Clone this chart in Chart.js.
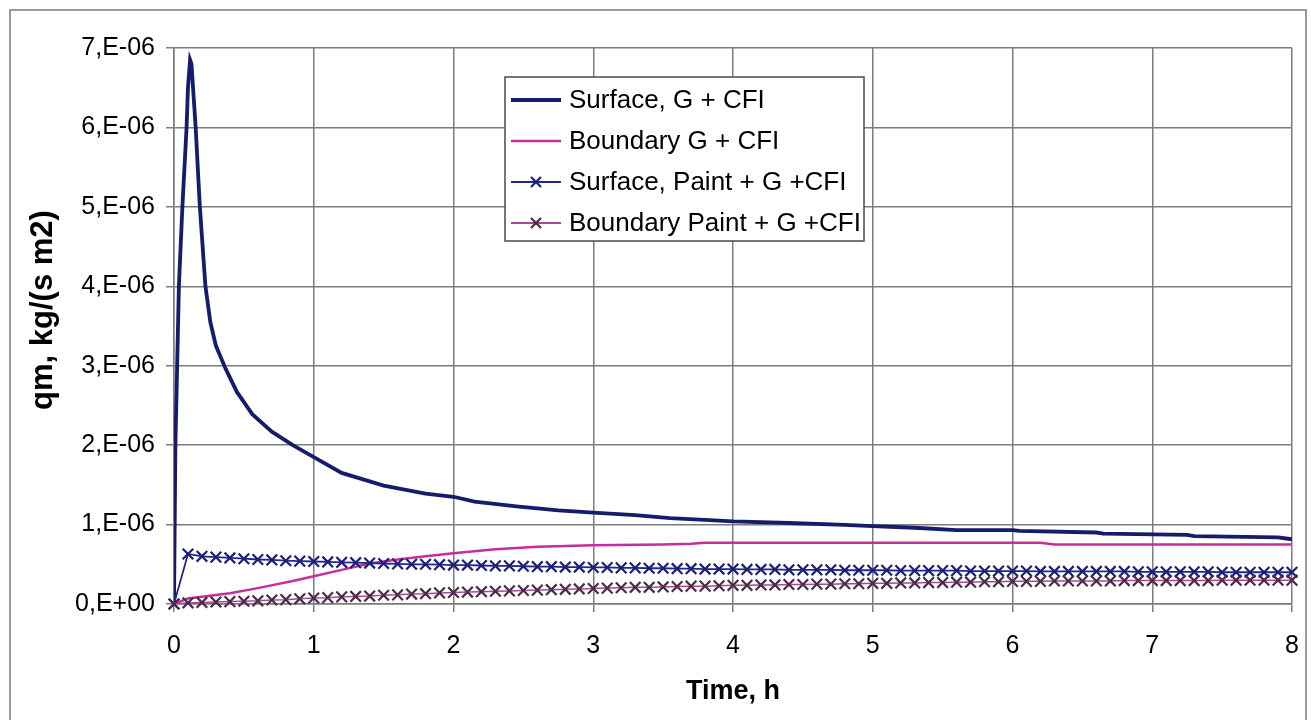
<!DOCTYPE html>
<html><head><meta charset="utf-8">
<script src="https://cdn.jsdelivr.net/npm/chart.js@4/dist/chart.umd.min.js"></script>
<style>html,body{margin:0;padding:0;background:#fff;}#wrap{width:1311px;height:720px;position:relative;}</style>
</head><body><div id="wrap"><canvas id="c" width="1311" height="720"></canvas></div>
<script>
// ---- data (values in kg/(s m2)) ----
const seriesNames = ["Surface, G + CFI", "Boundary G + CFI", "Surface, Paint + G +CFI", "Boundary Paint + G +CFI"];
const xTitle = "Time, h";
const yTitle = "qm, kg/(s m2)";
const xTickLabels = ["0","1","2","3","4","5","6","7","8"];
const yTickLabels = ["0,E+00","1,E-06","2,E-06","3,E-06","4,E-06","5,E-06","6,E-06","7,E-06"];

const surfaceTimes = [0,0.01,0.035,0.06,0.09,0.1,0.115,0.125,0.14,0.155,0.185,0.225,0.26,0.3,0.37,0.45,0.56,0.7,0.85,1.0,1.2,1.5,1.8,2.0,2.15,2.45,2.75,3.0,3.3,3.55,3.8,4.0,4.4,4.8,5.0,5.3,5.6,6.0,6.05,6.6,6.65,7.25,7.3,7.9,8.0];
const surfaceValues = [0,2.0e-6,4.0e-6,5.0e-6,6.0e-6,6.5e-6,6.85e-6,6.8e-6,6.4e-6,6.0e-6,5.0e-6,4.0e-6,3.55e-6,3.25e-6,2.96e-6,2.67e-6,2.39e-6,2.17e-6,2.0e-6,1.85e-6,1.65e-6,1.49e-6,1.39e-6,1.35e-6,1.29e-6,1.23e-6,1.18e-6,1.15e-6,1.12e-6,1.08e-6,1.06e-6,1.04e-6,1.02e-6,0.995e-6,0.98e-6,0.96e-6,0.93e-6,0.93e-6,0.92e-6,0.90e-6,0.885e-6,0.87e-6,0.855e-6,0.84e-6,0.815e-6];

const boundaryTimes = [0,0.1,0.4,0.6,0.85,1.0,1.2,1.4,1.6,1.8,2.0,2.3,2.6,3.0,3.5,3.7,3.8,4.5,5.0,6.2,6.3,8.0];
const boundaryValues = [0,0.07e-6,0.135e-6,0.2e-6,0.29e-6,0.35e-6,0.43e-6,0.51e-6,0.56e-6,0.6e-6,0.64e-6,0.69e-6,0.72e-6,0.74e-6,0.75e-6,0.76e-6,0.77e-6,0.77e-6,0.77e-6,0.77e-6,0.75e-6,0.75e-6];

const paintTimes = [
 0,0.1,0.2,0.3,0.4,0.5,0.6,0.7,0.8,0.9,
 1.0,1.1,1.2,1.3,1.4,1.5,1.6,1.7,1.8,1.9,
 2.0,2.1,2.2,2.3,2.4,2.5,2.6,2.7,2.8,2.9,
 3.0,3.1,3.2,3.3,3.4,3.5,3.6,3.7,3.8,3.9,
 4.0,4.1,4.2,4.3,4.4,4.5,4.6,4.7,4.8,4.9,
 5.0,5.1,5.2,5.3,5.4,5.5,5.6,5.7,5.8,5.9,
 6.0,6.1,6.2,6.3,6.4,6.5,6.6,6.7,6.8,6.9,
 7.0,7.1,7.2,7.3,7.4,7.5,7.6,7.7,7.8,7.9,
 8.0];
// in units of 1e-6
const surfacePaintMicro = [
 0,0.63,0.60,0.59,0.58,0.57,0.56,0.555,0.545,0.54,
 0.535,0.53,0.525,0.52,0.515,0.51,0.505,0.50,0.50,0.495,
 0.49,0.49,0.485,0.48,0.48,0.475,0.47,0.47,0.465,0.465,
 0.46,0.46,0.455,0.455,0.45,0.45,0.445,0.445,0.44,0.44,
 0.44,0.435,0.435,0.435,0.43,0.43,0.43,0.43,0.425,0.425,
 0.425,0.425,0.42,0.42,0.42,0.42,0.42,0.415,0.415,0.415,
 0.415,0.415,0.41,0.41,0.41,0.41,0.41,0.41,0.41,0.405,
 0.405,0.405,0.405,0.405,0.405,0.40,0.40,0.40,0.40,0.40,
 0.40];
const boundaryPaintMicro = [
 0,0.015,0.02,0.025,0.03,0.035,0.04,0.05,0.055,0.065,
 0.075,0.08,0.09,0.095,0.10,0.11,0.115,0.125,0.13,0.14,
 0.145,0.15,0.155,0.16,0.165,0.17,0.175,0.18,0.185,0.19,
 0.195,0.20,0.205,0.21,0.21,0.215,0.22,0.225,0.225,0.23,
 0.235,0.235,0.24,0.24,0.245,0.245,0.25,0.25,0.255,0.255,
 0.26,0.26,0.265,0.265,0.27,0.27,0.275,0.275,0.28,0.28,
 0.285,0.285,0.285,0.29,0.29,0.29,0.29,0.29,0.295,0.295,
 0.295,0.295,0.295,0.295,0.295,0.30,0.30,0.30,0.30,0.30,
 0.30];

// ---- build ----
const pts = (xs, ys, k) => xs.map((x, i) => ({x: x, y: ys[i] * (k || 1)}));
const FONT = "'Liberation Sans', Arial, sans-serif";

const datasets = [
  {label: seriesNames[0], data: pts(surfaceTimes, surfaceValues), borderColor: '#161b6b', borderWidth: 3.8, pointRadius: 0, tension: 0, order: 4},
  {label: seriesNames[1], data: pts(boundaryTimes, boundaryValues), borderColor: '#c42f9b', borderWidth: 2.5, pointRadius: 0, tension: 0, order: 3},
  {label: seriesNames[2], data: pts(paintTimes, surfacePaintMicro, 1e-6), borderColor: '#26278c', borderWidth: 1.8, pointStyle: 'crossRot', pointRadius: 7.5, pointBorderWidth: 2.2, pointBorderColor: '#1c1f78', pointBackgroundColor: '#1c1f78', tension: 0, clip: false, order: 2},
  {label: seriesNames[3], data: pts(paintTimes, boundaryPaintMicro, 1e-6), borderColor: '#a04c9c', borderWidth: 1.5, pointStyle: 'crossRot', pointRadius: 7.5, pointBorderWidth: 2.2, pointBorderColor: '#4a2c46', pointBackgroundColor: '#4a2c46', tension: 0, clip: false, order: 1}
];

const framePlugin = {
  id: 'frame',
  beforeDraw(chart) {
    const ctx = chart.ctx;
    ctx.save();
    ctx.fillStyle = '#fff';
    ctx.fillRect(0, 0, chart.width, chart.height);
    ctx.strokeStyle = '#9a9a9a';
    ctx.lineWidth = 2;
    ctx.strokeRect(10, 10, 1296, 730);
    ctx.restore();
  },
  afterDraw(chart) {
    const ctx = chart.ctx;
    const a = chart.chartArea;
    ctx.save();
    ctx.translate(43, (a.top + a.bottom) / 2 - 16);
    ctx.rotate(-Math.PI / 2);
    ctx.fillStyle = '#000';
    ctx.font = 'bold 31px ' + FONT;
    ctx.textAlign = 'center';
    ctx.textBaseline = 'middle';
    ctx.fillText(yTitle, 0, 0);
    ctx.restore();
  }
};

const legendPlugin = {
  id: 'boxLegend',
  afterDraw(chart) {
    const ctx = chart.ctx;
    const bx = 505, by = 77, bw = 359, bh = 164;
    ctx.save();
    ctx.fillStyle = '#fff';
    ctx.fillRect(bx, by, bw, bh);
    ctx.strokeStyle = '#4a4a4a';
    ctx.lineWidth = 1.5;
    ctx.strokeRect(bx, by, bw, bh);
    const rows = [100, 141, 182, 223];
    chart.data.datasets.forEach((ds, i) => {
      const y = rows[i];
      ctx.strokeStyle = ds.borderColor;
      ctx.lineWidth = Math.max(ds.borderWidth, 2);
      ctx.beginPath(); ctx.moveTo(511, y); ctx.lineTo(561, y); ctx.stroke();
      if (ds.pointStyle === 'crossRot') {
        const r = 5;
        ctx.strokeStyle = ds.pointBorderColor;
        ctx.lineWidth = 2.2;
        ctx.beginPath();
        ctx.moveTo(536 - r, y - r); ctx.lineTo(536 + r, y + r);
        ctx.moveTo(536 - r, y + r); ctx.lineTo(536 + r, y - r);
        ctx.stroke();
      }
      ctx.fillStyle = '#000';
      ctx.font = '26px ' + FONT;
      ctx.textBaseline = 'middle';
      ctx.textAlign = 'left';
      ctx.fillText(ds.label, 569, y + 1);
    });
    ctx.restore();
  }
};

new Chart(document.getElementById('c'), {
  type: 'line',
  data: {datasets: datasets},
  options: {
    responsive: false,
    animation: false,
    devicePixelRatio: 1,
    layout: {padding: {top: 48, right: 19, bottom: 0, left: 0}},
    plugins: {legend: {display: false}, tooltip: {enabled: false}},
    elements: {line: {tension: 0}},
    scales: {
      x: {
        type: 'linear', min: 0, max: 8,
        afterFit: s => { s.height = 116; s.paddingRight = 0; s.paddingLeft = 0; },
        afterBuildTicks: s => { s.ticks = xTickLabels.map(v => ({value: Number(v)})); },
        ticks: {color: '#000', font: {family: FONT, size: 25}, padding: 19, maxRotation: 0,
          callback: (v, i) => xTickLabels[i]},
        grid: {color: '#7d7d7d', lineWidth: 1.5, tickLength: 8, drawTicks: true},
        border: {display: true, color: '#7d7d7d', width: 1.5},
        title: {display: true, text: xTitle, color: '#000', font: {family: FONT, size: 27, weight: 'bold'}, padding: {top: 0, bottom: 12}}
      },
      y: {
        min: 0, max: 7e-6,
        afterFit: s => { s.width = 174; s.paddingTop = 0; s.paddingBottom = 0; },
        afterBuildTicks: s => { s.ticks = yTickLabels.map((t, i) => ({value: i * 1e-6})); },
        ticks: {color: '#000', font: {family: FONT, size: 25}, padding: 11,
          callback: (v, i) => yTickLabels[i]},
        grid: {color: '#7d7d7d', lineWidth: 1.5, tickLength: 8, drawTicks: true},
        border: {display: true, color: '#7d7d7d', width: 1.5},
        title: {display: false}
      }
    }
  },
  plugins: [framePlugin, legendPlugin]
});
</script></body></html>
